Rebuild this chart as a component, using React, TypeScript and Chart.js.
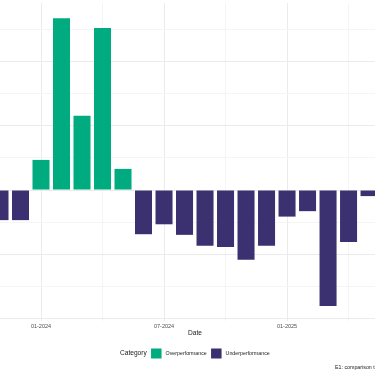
import React, { useEffect, useRef } from "react";
import { Chart, registerables } from "chart.js";

Chart.register(...registerables);

// Month categories (index = position on the date axis)
const months = [
  "11-2023", "12-2023", "01-2024", "02-2024", "03-2024", "04-2024", "05-2024",
  "06-2024", "07-2024", "08-2024", "09-2024", "10-2024", "11-2024", "12-2024",
  "01-2025", "02-2025", "03-2025", "04-2025", "05-2025",
];
// Performance difference per month
const values = [
  -0.94, -0.94, 0.94, 5.36, 2.32, 5.06, 0.66, -1.38, -1.07, -1.4,
  -1.74, -1.78, -2.18, -1.74, -0.83, -0.66, -3.62, -1.62, -0.19,
];
const categories = ["Overperformance", "Underperformance"];
const categoryColors = ["#00AB80", "#3B3070"];
const xGridIndices = [2, 5, 8, 11, 14, 17];
const xLabelIndices = [2, 8, 14];
const yTickValues = [-4, -3, -2, -1, 0, 1, 2, 3, 4, 5];
const xTitle = "Date";
const legendTitle = "Category";
const caption = "E1: comparison to benchmark";

const FONT = "'Liberation Sans', Arial, sans-serif";

export default function App() {
  const ref = useRef<HTMLCanvasElement | null>(null);

  useEffect(() => {
    if (!ref.current) return;
    const over = values
      .map((v, i) => ({ x: i, y: v }))
      .filter((p) => p.y >= 0);
    const under = values
      .map((v, i) => ({ x: i, y: v }))
      .filter((p) => p.y < 0);

    const textPlugin = {
      id: "textPlugin",
      afterDraw(chart: any) {
        const ctx = chart.ctx as CanvasRenderingContext2D;
        ctx.save();
        ctx.textBaseline = "middle";
        // axis title
        ctx.fillStyle = "#1a1a1a";
        ctx.font = `6.6px ${FONT}`;
        ctx.textAlign = "center";
        ctx.fillText(xTitle, 195, 333);
        // legend
        ctx.textAlign = "left";
        let x = 120;
        const ly = 353.5;
        ctx.font = `6.6px ${FONT}`;
        ctx.fillText(legendTitle, x, ly);
        x += ctx.measureText(legendTitle).width + 4.3;
        ctx.font = `5.3px ${FONT}`;
        categories.forEach((c, i) => {
          ctx.fillStyle = categoryColors[i];
          ctx.fillRect(x, ly - 5, 10.5, 10);
          x += 10.5 + 4;
          ctx.fillStyle = "#1a1a1a";
          ctx.fillText(c, x, ly);
          x += ctx.measureText(c).width + 4.3;
        });
        // caption
        ctx.font = `5.3px ${FONT}`;
        ctx.fillText(caption, 335, 367.7);
        ctx.restore();
      },
    };

    const chart = new Chart(ref.current, {
      type: "bar",
      data: {
        datasets: [
          {
            label: categories[0],
            data: over,
            backgroundColor: categoryColors[0],
            grouped: false,
            categoryPercentage: 1,
            barPercentage: 0.83,
          } as any,
          {
            label: categories[1],
            data: under,
            backgroundColor: categoryColors[1],
            grouped: false,
            categoryPercentage: 1,
            barPercentage: 0.83,
          } as any,
        ],
      },
      options: {
        animation: false,
        responsive: false,
        devicePixelRatio: 1,
        layout: { padding: { top: 3, left: 0, right: 0, bottom: 0 } },
        plugins: {
          legend: { display: false },
          tooltip: { enabled: false },
        },
        scales: {
          x: {
            type: "linear",
            min: 0,
            max: 18.29,
            offset: false,
            border: { display: false },
            afterBuildTicks: (axis: any) => {
              axis.ticks = xGridIndices.map((v) => ({ value: v }));
            },
            afterFit: (scale: any) => {
              scale.height = 54;
            },
            grid: {
              offset: false,
              drawTicks: false,
              color: (ctx: any) =>
                xLabelIndices.includes(ctx.tick?.value) ? "#ebebeb" : "#f5f5f5",
            },
            ticks: {
              autoSkip: false,
              maxRotation: 0,
              padding: 2,
              color: "#4d4d4d",
              font: { family: FONT, size: 5.5 },
              callback: (v: any) =>
                xLabelIndices.includes(Number(v)) ? months[Number(v)] : "",
            },
          },
          y: {
            type: "linear",
            min: -4.09,
            max: 5.84,
            border: { display: false },
            afterBuildTicks: (axis: any) => {
              axis.ticks = yTickValues.map((v) => ({ value: v }));
            },
            afterFit: (scale: any) => {
              scale.width = 0;
            },
            grid: {
              drawTicks: false,
              color: (ctx: any) =>
                ctx.tick && ctx.tick.value % 2 === 0 ? "#ebebeb" : "#f5f5f5",
            },
            ticks: { display: false },
          },
        },
      },
      plugins: [textPlugin],
    });
    return () => chart.destroy();
  }, []);

  return (
    <div style={{ position: "fixed", left: 0, top: 0, width: 375, height: 375, background: "#fff" }}>
      <canvas ref={ref} width={375} height={375} style={{ width: 375, height: 375, display: "block" }} />
    </div>
  );
}
